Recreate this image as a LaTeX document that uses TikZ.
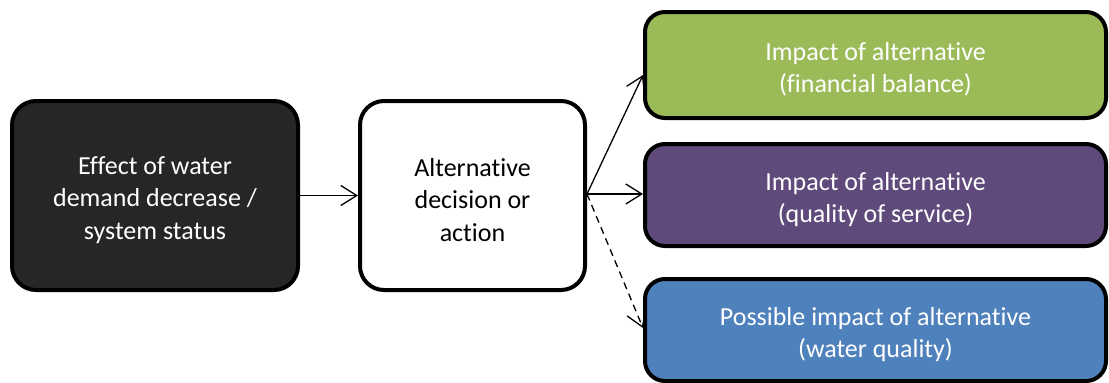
\documentclass[tikz,border=0pt]{standalone}
\usepackage{fontspec}
\setmainfont[Ligatures=NoCommon]{Carlito}
\usetikzlibrary{arrows.meta,calc}
\definecolor{darkbox}{HTML}{262626}
\definecolor{greenbox}{HTML}{9BBB59}
\definecolor{purplebox}{HTML}{604A7B}
\definecolor{bluebox}{HTML}{4F81BD}
% invisible strut that lowers a block of lines a little inside its box
\newcommand\toppad{\rule{0pt}{27pt}}
\begin{document}
\begin{tikzpicture}[x=1pt,y=-1pt,
  box/.style={draw=black,line width=4pt,rounded corners=24pt,inner sep=0pt,
    align=center,font=\fontsize{26}{32.5}\selectfont},
  impact/.style={box,rounded corners=20pt,text=white,minimum width=461pt},
  link/.style={line width=1.3pt,-{Straight Barb[length=16pt,width=20pt,line width=1.3pt]}}]
\useasboundingbox (0,0) rectangle (1109,383);
% cause and decision
\node[box,fill=darkbox,text=white,minimum width=286pt,minimum height=189pt]
  (effect) at (155,195.5) {\toppad Effect of water\\demand decrease /\\system status};
\node[box,fill=white,minimum width=225pt,minimum height=189pt]
  (decision) at (472.5,195.5) {\toppad Alternative\\decision or\\action};
% impacts
\node[impact,fill=greenbox,minimum height=106pt] (financial) at (875.5,65)
  {\toppad Impact of alternative\\(financial balance)};
\node[impact,fill=purplebox,minimum height=102pt] (service) at (875.5,195)
  {\toppad Impact of alternative\\(quality of service)};
\node[impact,fill=bluebox,minimum height=102pt] (waterq) at (875.5,330)
  {\toppad Possible impact of alternative\\(water quality)};
% connectors
\coordinate (fork) at ($(decision.east)+(0,-1.5)$);
\draw[link] (effect.east) -- (decision.west);
\draw[link] (fork) -- ($(financial.west)+(0,10)$);
\draw[link] (fork) -- (fork -| service.west);
\draw[link,dashed,dash pattern=on 7pt off 5pt] (fork) -- ($(waterq.west)+(0,-2)$);
\end{tikzpicture}
\end{document}
